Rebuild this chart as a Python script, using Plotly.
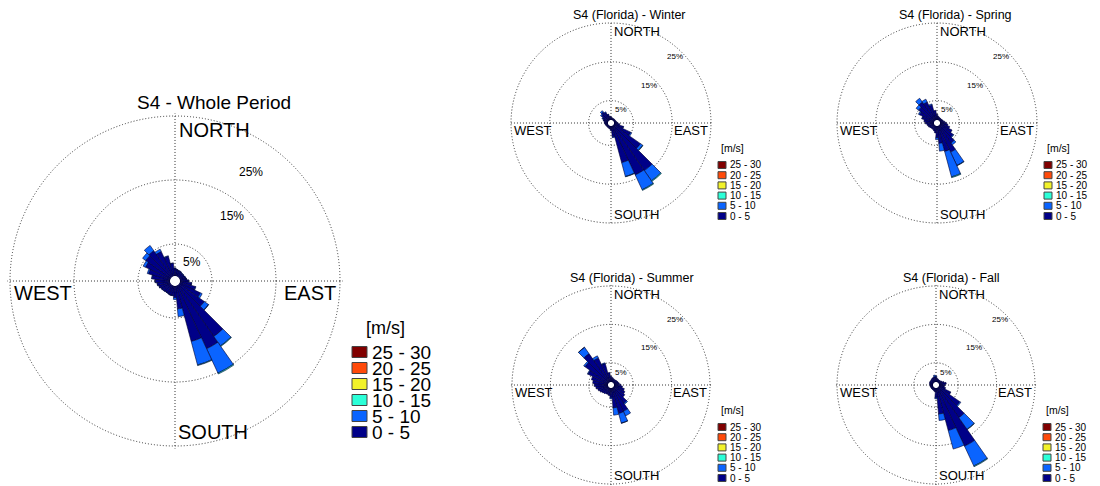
import plotly.graph_objects as go

W, H = 1100, 486

# ---------------- data ----------------
directions = [0, 10, 20, 30, 40, 50, 60, 70, 80, 90, 100, 110, 120, 130, 140, 150, 160, 170,
              180, 190, 200, 210, 220, 230, 240, 250, 260, 270, 280, 290, 300, 310, 320, 330, 340, 350]

speed_labels = ["0 - 5", "5 - 10", "10 - 15", "15 - 20", "20 - 25", "25 - 30"]
speed_colors = ["#000088", "#0A64FF", "#2BFFD8", "#F2F22A", "#FF4A0A", "#800000"]

# Whole period (% frequency per 10-degree sector)
whole_0_5 = [1.2, 1.0, 0.9, 0.9, 0.8, 0.8, 0.8, 0.9, 1.0, 1.3, 1.8, 2.5, 3.6, 4.8, 9.8, 10.9, 9.0, 3.6,
             1.8, 1.5, 1.5, 1.4, 1.4, 1.5, 1.6, 1.8, 2.0, 2.3, 2.8, 3.5, 4.3, 4.8, 5.0, 4.3, 3.2, 2.0]
whole_5_10 = [0.05, 0.05, 0.05, 0.05, 0.05, 0.05, 0.05, 0.05, 0.05, 0.05, 0.05, 0.1, 0.3, 0.8, 1.8, 4.2, 3.8, 1.2,
              0.3, 0.05, 0.05, 0.05, 0.05, 0.05, 0.05, 0.05, 0.05, 0.05, 0.1, 0.2, 0.4, 0.6, 1.0, 0.4, 0.1, 0.05]
whole_10_15 = [0, 0, 0, 0, 0, 0, 0, 0, 0, 0, 0, 0, 0, 0.05, 0.1, 0.15, 0.1, 0,
               0, 0, 0, 0, 0, 0, 0, 0, 0, 0, 0, 0, 0, 0, 0, 0, 0, 0]

# Winter
winter_0_5 = [0.8, 0.6, 0.5, 0.5, 0.5, 0.5, 0.5, 0.6, 0.7, 1.0, 1.5, 2.5, 4.8, 8.5, 14.2, 14.0, 9.8, 2.8,
              1.2, 0.8, 0.7, 0.6, 0.6, 0.6, 0.6, 0.7, 0.8, 0.9, 1.0, 1.2, 1.6, 2.2, 2.7, 2.2, 1.5, 1.0]
winter_5_10 = [0, 0, 0, 0, 0, 0, 0, 0, 0, 0, 0, 0.1, 0.3, 0.7, 3.2, 4.2, 3.7, 0.2,
               0, 0, 0, 0, 0, 0, 0, 0, 0, 0, 0, 0.1, 0.2, 0.3, 0.4, 0.2, 0.1, 0]
winter_10_15 = [0, 0, 0, 0, 0, 0, 0, 0, 0, 0, 0, 0, 0, 0.1, 0.2, 0.2, 0.1, 0,
                0, 0, 0, 0, 0, 0, 0, 0, 0, 0, 0, 0, 0, 0, 0, 0, 0, 0]

# Spring
spring_0_5 = [1.5, 1.0, 0.8, 0.7, 0.7, 0.7, 0.8, 0.9, 1.2, 1.6, 2.0, 2.6, 3.5, 4.3, 5.5, 7.5, 6.8, 4.5,
              3.0, 1.8, 1.4, 1.2, 1.1, 1.2, 1.4, 1.6, 1.8, 2.2, 2.6, 3.2, 4.2, 5.0, 5.8, 5.2, 4.0, 2.5]
spring_5_10 = [0, 0, 0, 0, 0, 0, 0, 0, 0, 0, 0, 0, 0, 0.2, 0.6, 3.8, 6.8, 2.0,
               0.5, 0, 0, 0, 0, 0, 0, 0, 0, 0, 0, 0.1, 0.3, 0.8, 1.2, 0.8, 0.3, 0]
spring_10_15 = [0, 0, 0, 0, 0, 0, 0, 0, 0, 0, 0, 0, 0, 0, 0, 0.1, 0.2, 0,
                0, 0, 0, 0, 0, 0, 0, 0, 0, 0, 0, 0, 0, 0, 0, 0, 0, 0]

# Summer
summer_0_5 = [1.5, 1.2, 1.0, 0.9, 0.9, 1.0, 1.1, 1.2, 1.4, 1.8, 2.2, 2.8, 3.2, 3.6, 5.0, 6.8, 6.9, 5.2,
              2.5, 2.0, 1.8, 1.8, 2.0, 2.2, 2.5, 2.8, 3.2, 3.6, 4.0, 4.5, 5.8, 7.5, 9.2, 7.0, 5.0, 2.5]
summer_5_10 = [0, 0, 0, 0, 0, 0, 0, 0, 0, 0, 0, 0, 0, 0, 0.3, 1.3, 2.6, 1.9,
               0.3, 0, 0, 0, 0, 0, 0, 0, 0, 0, 0, 0, 0.2, 0.4, 2.0, 0.6, 0.2, 0]
summer_10_15 = [0, 0, 0, 0, 0, 0, 0, 0, 0, 0, 0, 0, 0, 0, 0, 0, 0.05, 0,
                0, 0, 0, 0, 0, 0, 0, 0, 0, 0, 0, 0, 0, 0, 0.05, 0, 0, 0]

# Fall
fall_0_5 = [1.3, 1.0, 0.8, 0.7, 0.7, 0.8, 1.0, 1.4, 1.9, 1.6, 1.4, 1.8, 3.5, 6.8, 9.6, 16.8, 11.5, 6.8,
            2.5, 1.0, 0.8, 0.7, 0.7, 0.7, 0.7, 0.7, 0.8, 0.8, 0.9, 1.0, 1.0, 1.0, 1.1, 1.2, 1.3, 1.4]
fall_5_10 = [0.3, 0, 0, 0, 0, 0, 0, 0, 0, 0, 0, 0, 0, 0.3, 3.7, 5.7, 5.0, 1.7,
             0.3, 0, 0, 0, 0, 0, 0, 0, 0, 0, 0, 0, 0, 0, 0, 0, 0, 0.4]
fall_10_15 = [0, 0, 0, 0, 0, 0, 0, 0, 0, 0, 0, 0, 0, 0, 0.1, 0.2, 0, 0,
              0, 0, 0, 0, 0, 0, 0, 0, 0, 0, 0, 0, 0, 0, 0, 0, 0, 0]

radial_ticks = [5, 15, 25]
radial_ticktext = ["5%", "15%", "25%"]
compass_labels = ["NORTH", "WEST", "EAST", "SOUTH"]

# ---------------- layout config (pixels) ----------------
roses = [
    dict(pid="polar", title="S4 - Whole Period", cx=175, cy=281, R=165, big=True,
         title_x=214, title_y=103,
         series=[whole_0_5, whole_5_10, whole_10_15]),
    dict(pid="polar2", title="S4 (Florida) - Winter", cx=611, cy=123, R=100, big=False,
         title_x=629, title_y=15,
         series=[winter_0_5, winter_5_10, winter_10_15]),
    dict(pid="polar3", title="S4 (Florida) - Spring", cx=937, cy=123, R=100, big=False,
         title_x=955, title_y=15,
         series=[spring_0_5, spring_5_10, spring_10_15]),
    dict(pid="polar4", title="S4 (Florida) - Summer", cx=611, cy=385, R=99, big=False,
         title_x=632, title_y=278,
         series=[summer_0_5, summer_5_10, summer_10_15]),
    dict(pid="polar5", title="S4 (Florida) - Fall", cx=936, cy=385, R=99, big=False,
         title_x=951, title_y=278,
         series=[fall_0_5, fall_5_10, fall_10_15]),
]

RMAX = 25.4     # radial range slightly beyond the 25% ring so that ring is drawn
HOLE = 0.03


def px(x):
    return x / W


def py(y):
    return 1 - y / H


def clamp(v):
    return min(1.0, max(0.0, v))


FONT = "Liberation Sans, Arial, sans-serif"
GRID = "#333333"

fig = go.Figure()
annotations = []
shapes = []
layout_polars = {}

for rose in roses:
    cx, cy, R, pid = rose["cx"], rose["cy"], rose["R"], rose["pid"]
    s = R / 165.0
    Rd = R / (HOLE + (1 - HOLE) * 25.0 / RMAX)   # domain radius so 25% ring sits at R
    for i, vals in enumerate(rose["series"]):
        fig.add_trace(go.Barpolar(
            r=vals, theta=directions, width=10, name=speed_labels[i],
            marker=dict(color=speed_colors[i], line=dict(color="#000030", width=0.6)),
            subplot=pid, showlegend=False, hoverinfo="r+theta+name",
        ))
    layout_polars[pid] = dict(
        domain=dict(x=[clamp(px(cx - Rd)), clamp(px(cx + Rd))],
                    y=[clamp(py(cy + Rd)), clamp(py(cy - Rd))]),
        bgcolor="white",
        hole=HOLE,
        barmode="stack",
        radialaxis=dict(range=[0, RMAX], tickvals=radial_ticks, showticklabels=False,
                        ticks="", showline=False, gridcolor=GRID, griddash="1px,2px",
                        gridwidth=1.1),
        angularaxis=dict(direction="clockwise", rotation=90, tickvals=[0, 90, 180, 270],
                         showticklabels=False, ticks="", showline=False,
                         gridcolor=GRID, griddash="1px,2px", gridwidth=1.1),
    )

    big = rose["big"]
    dfs = 20 if big else 13
    # Title
    annotations.append(dict(text=rose["title"], x=px(rose["title_x"]), y=py(rose["title_y"]),
                            xref="paper", yref="paper", xanchor="center", yanchor="middle",
                            showarrow=False, font=dict(size=19 if big else 12.5, color="black", family=FONT)))
    # Compass labels
    annotations += [
        dict(text=compass_labels[0], x=px(cx + 2 * s), y=py(cy - R + 14 * s), xanchor="left"),
        dict(text=compass_labels[1], x=px(cx - R + 2 * s), y=py(cy + 12 * s), xanchor="left"),
        dict(text=compass_labels[2], x=px(cx + R - 2 * s), y=py(cy + 12 * s), xanchor="right"),
        dict(text=compass_labels[3], x=px(cx + 1 * s), y=py(cy + R - 14 * s), xanchor="left"),
    ]
    for a in annotations[-4:]:
        a.update(xref="paper", yref="paper", yanchor="middle", showarrow=False,
                 font=dict(size=dfs, color="black", family=FONT))
    # Radial percentage labels
    if big:
        offs = [(17, -19), (57, -65), (76, -109)]
        pfs = 12
    else:
        offs = [(10, -13), (38, -38), (64, -66)]
        pfs = 8
    for (dx, dy), txt in zip(offs, radial_ticktext):
        annotations.append(dict(text=txt, x=px(cx + dx), y=py(cy + dy), xref="paper", yref="paper",
                                xanchor="center", yanchor="middle", showarrow=False,
                                font=dict(size=pfs, color="black", family=FONT)))
    # Legend
    if big:
        hx, hy, hfs = cx + 210, cy + 47, 18
        row0, dyrow, sx0, sx1, sh, tx, tfs = cy + 71, 16, cx + 177, cx + 192, 11, cx + 195, 19
    else:
        hx, hy, hfs = cx + 121, cy + 25, 10.5
        row0, dyrow, sx0, sx1, sh, tx, tfs = cy + 42, 10.2, cx + 107, cx + 115, 7, cx + 117, 10
    annotations.append(dict(text="[m/s]", x=px(hx), y=py(hy), xref="paper", yref="paper",
                            xanchor="center", yanchor="middle", showarrow=False,
                            font=dict(size=hfs, color="black", family=FONT)))
    for j in range(6):
        k = 5 - j
        yc = row0 + dyrow * j
        shapes.append(dict(type="rect", xref="paper", yref="paper",
                           x0=px(sx0), x1=px(sx1), y0=py(yc + sh / 2), y1=py(yc - sh / 2),
                           fillcolor=speed_colors[k], line=dict(color="#444444", width=1)))
        annotations.append(dict(text=speed_labels[k], x=px(tx), y=py(yc), xref="paper", yref="paper",
                                xanchor="left", yanchor="middle", showarrow=False,
                                font=dict(size=tfs, color="black", family=FONT)))

fig.update_layout(
    width=W, height=H,
    margin=dict(l=0, r=0, t=0, b=0),
    paper_bgcolor="white",
    plot_bgcolor="white",
    showlegend=False,
    annotations=annotations,
    shapes=shapes,
    font=dict(family=FONT),
    **layout_polars,
)

fig.write_html("out.html")
